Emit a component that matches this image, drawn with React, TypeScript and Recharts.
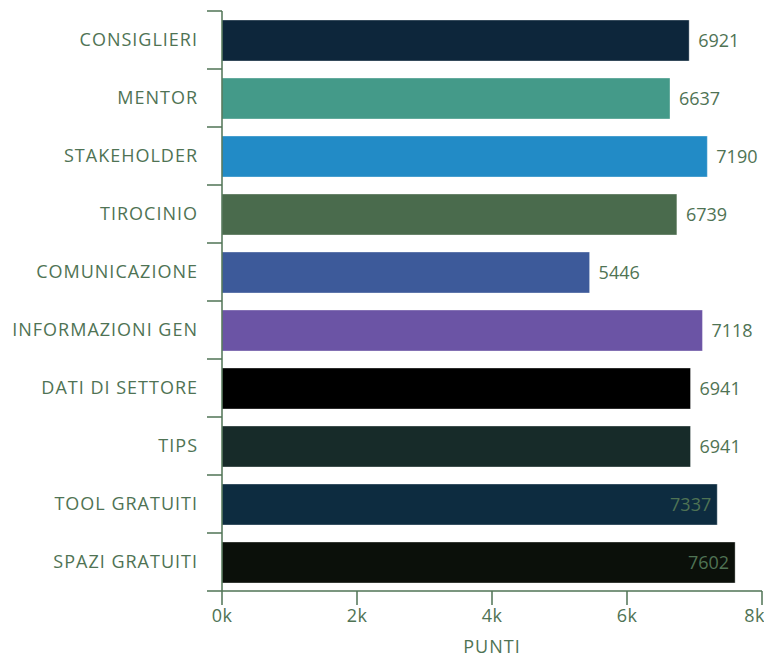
import { BarChart, Bar, Cell, XAxis, YAxis, LabelList } from "recharts"

const CATEGORIES = [
  "CONSIGLIERI",
  "MENTOR",
  "STAKEHOLDER",
  "TIROCINIO",
  "COMUNICAZIONE",
  "INFORMAZIONI GEN",
  "DATI DI SETTORE",
  "TIPS",
  "TOOL GRATUITI",
  "SPAZI GRATUITI",
]

const PUNTI = [6921, 6637, 7190, 6739, 5446, 7118, 6941, 6941, 7337, 7602]

const X_TICKS = [0, 2000, 4000, 6000, 8000]

const BAR_COLORS = [
  "#0d263b", // consiglieri
  "#449a89",
  "#228bc6",
  "#4a6b4d",
  "#3d5a9a",
  "#6b54a5",
  "#000000",
  "#172b29",
  "#0d2c40",
  "#0b100a",
]

const W = 764
const H = 657
const PLOT_LEFT = 222
const PLOT_TOP = 11
const X_AXIS_H = 66
const BAND = (H - PLOT_TOP - X_AXIS_H) / CATEGORIES.length
const GREEN = "#4f7354"
const FONT = "'Open Sans', sans-serif"

const data = CATEGORIES.map((name, i) => ({ name, punti: PUNTI[i] }))

function CategoryTick(props: any) {
  const { y, payload, index } = props
  const top = y - BAND / 2
  return (
    <g>
      <line x1={PLOT_LEFT - 15} x2={PLOT_LEFT} y1={top} y2={top} stroke={GREEN} strokeWidth={1.5} />
      {index === CATEGORIES.length - 1 && (
        <line
          x1={PLOT_LEFT - 15}
          x2={PLOT_LEFT}
          y1={top + BAND}
          y2={top + BAND}
          stroke={GREEN}
          strokeWidth={1.5}
        />
      )}
      <text
        x={PLOT_LEFT - 24}
        y={y}
        dy="0.36em"
        textAnchor="end"
        fill={GREEN}
        fontSize={18}
        letterSpacing={1}
        fontFamily={FONT}
      >
        {payload.value}
      </text>
    </g>
  )
}

// value goes outside the bar unless it would run off the page
function ValueLabel(props: any) {
  const { x, y, width, height, value } = props
  const text = String(value)
  const end = x + width
  const fits = end + 8 + text.length * 10 <= W
  return (
    <text
      x={fits ? end + 9 : end - 6}
      y={y + height / 2}
      dy="0.36em"
      textAnchor={fits ? "start" : "end"}
      fill={GREEN}
      fontSize={18}
      fontFamily={FONT}
    >
      {text}
    </text>
  )
}

export default function App() {
  return (
    <div style={{ position: "absolute", left: 0, top: 0, width: W, height: H, background: "#fff" }}>
      <BarChart
        width={W}
        height={H}
        data={data}
        layout="vertical"
        margin={{ top: PLOT_TOP, right: 2, bottom: 0, left: 0 }}
      >
        <XAxis
          type="number"
          dataKey="punti"
          domain={[0, 8000]}
          ticks={X_TICKS}
          tickFormatter={(v: number) => `${v / 1000}k`}
          height={X_AXIS_H}
          tickSize={14}
          tickMargin={4}
          stroke={GREEN}
          strokeWidth={1.5}
          tick={{ fill: GREEN, fontSize: 18, letterSpacing: 0.5, fontFamily: FONT }}
          label={{
            value: "PUNTI",
            position: "insideBottom",
            offset: 4,
            fill: GREEN,
            fontSize: 18,
            letterSpacing: 1,
            fontFamily: FONT,
          }}
        />
        <YAxis
          type="category"
          dataKey="name"
          width={PLOT_LEFT}
          tickLine={false}
          stroke={GREEN}
          strokeWidth={1.5}
          interval={0}
          tick={<CategoryTick />}
        />
        <Bar dataKey="punti" barSize={41} isAnimationActive={false} stroke="#ffffff" strokeOpacity={0.35}>
          {data.map((_, i) => (
            <Cell key={`cell-${i}`} fill={BAR_COLORS[i % BAR_COLORS.length]} />
          ))}
          <LabelList dataKey="punti" content={<ValueLabel />} />
        </Bar>
      </BarChart>
    </div>
  )
}
